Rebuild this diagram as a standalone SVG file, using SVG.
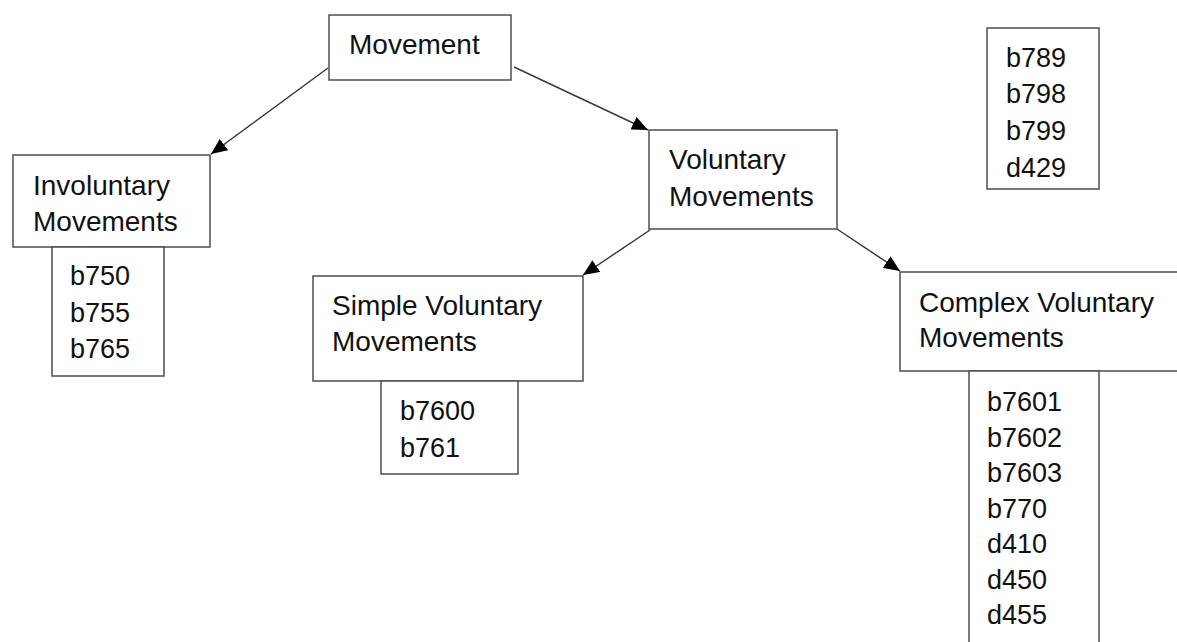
<svg xmlns="http://www.w3.org/2000/svg" width="1177" height="642" viewBox="0 0 1177 642">
  <style>
    .box { fill: #ffffff; stroke: #4d4d4d; stroke-width: 1.5; }
    .t { font-family: "Liberation Sans", Arial, sans-serif; font-size: 28px; fill: #111111; }
    .c { font-family: "Liberation Sans", Arial, sans-serif; font-size: 27px; fill: #111111; }
    .edge { stroke: #3a3a3a; stroke-width: 1.5; fill: none; marker-end: url(#arrow); }
  </style>
  <defs>
    <marker id="arrow" viewBox="0 0 16 14" refX="16" refY="7" markerWidth="16" markerHeight="14" markerUnits="userSpaceOnUse" orient="auto">
      <path d="M0,0 L16,7 L0,14 Z" fill="#000000"/>
    </marker>
  </defs>
  <rect width="1177" height="642" fill="#ffffff"/>

  <g id="connectors">
    <line class="edge" x1="328" y1="68" x2="211" y2="154"/>
    <line class="edge" x1="514" y1="67" x2="648" y2="130"/>
    <line class="edge" x1="650" y1="230" x2="583" y2="275"/>
    <line class="edge" x1="837" y1="229" x2="900" y2="271"/>
  </g>

  <g id="movement">
    <rect class="box" x="329" y="15" width="182" height="65"/>
    <text class="t" x="349" y="54">Movement</text>
  </g>

  <g id="involuntary">
    <rect class="box" x="13" y="155" width="197" height="92"/>
    <text class="t" x="33" y="195">Involuntary</text>
    <text class="t" x="33" y="231">Movements</text>
  </g>

  <g id="involuntary-codes">
    <rect class="box" x="52" y="247" width="112" height="129"/>
    <text class="c" x="70" y="285">b750</text>
    <text class="c" x="70" y="322">b755</text>
    <text class="c" x="70" y="358">b765</text>
  </g>

  <g id="voluntary">
    <rect class="box" x="649" y="130" width="188" height="99"/>
    <text class="t" x="669" y="169">Voluntary</text>
    <text class="t" x="669" y="206">Movements</text>
  </g>

  <g id="simple">
    <rect class="box" x="313" y="276" width="270" height="105"/>
    <text class="t" x="332" y="315">Simple Voluntary</text>
    <text class="t" x="332" y="351">Movements</text>
  </g>

  <g id="simple-codes">
    <rect class="box" x="381" y="381" width="137" height="93"/>
    <text class="c" x="400" y="420">b7600</text>
    <text class="c" x="400" y="457">b761</text>
  </g>

  <g id="complex">
    <rect class="box" x="900" y="272" width="285" height="99"/>
    <text class="t" x="919" y="312">Complex Voluntary</text>
    <text class="t" x="919" y="347">Movements</text>
  </g>

  <g id="complex-codes">
    <rect class="box" x="969" y="371" width="130" height="290"/>
    <text class="c" x="987" y="411">b7601</text>
    <text class="c" x="987" y="446.5">b7602</text>
    <text class="c" x="987" y="482">b7603</text>
    <text class="c" x="987" y="517.5">b770</text>
    <text class="c" x="987" y="553">d410</text>
    <text class="c" x="987" y="588.5">d450</text>
    <text class="c" x="987" y="624">d455</text>
  </g>

  <g id="other-codes">
    <rect class="box" x="987" y="28" width="112" height="161"/>
    <text class="c" x="1006" y="67">b789</text>
    <text class="c" x="1006" y="103">b798</text>
    <text class="c" x="1006" y="140">b799</text>
    <text class="c" x="1006" y="177">d429</text>
  </g>
</svg>
